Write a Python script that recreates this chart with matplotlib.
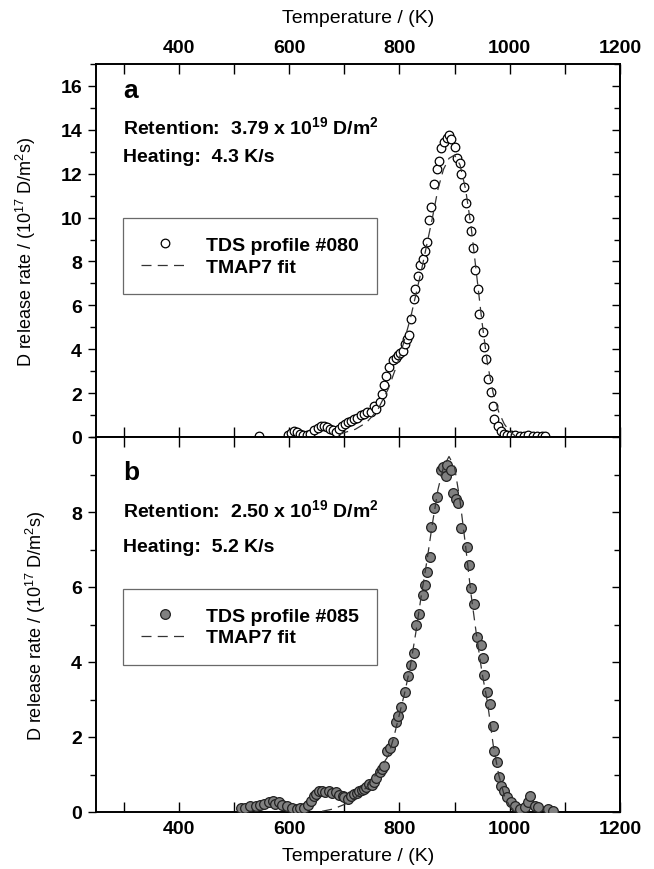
import matplotlib
matplotlib.use("Agg")
import matplotlib.pyplot as plt
from matplotlib.ticker import MultipleLocator

plt.rcParams['font.family'] = ['Liberation Sans', 'DejaVu Sans']
plt.rcParams['mathtext.fontset'] = 'custom'
plt.rcParams['mathtext.rm'] = 'Liberation Sans'
plt.rcParams['mathtext.bf'] = 'Liberation Sans:bold'
plt.rcParams['mathtext.it'] = 'Liberation Sans:italic'

# ---------------- data: panel a (#080) ----------------
temp_a = [545, 598, 604, 609, 614, 620, 626, 632, 638, 645, 652, 658, 663, 668, 674, 680,
          685, 690, 696, 701, 706, 712, 718, 724, 730, 736, 742, 748, 754, 758, 764, 768,
          772, 776, 782, 788, 793, 797, 802, 806, 810, 814, 818, 821, 826, 828, 833, 838,
          842, 846, 850, 854, 858, 862, 868, 872, 875, 881, 886, 890, 894, 900, 905, 910,
          912, 918, 921, 926, 930, 934, 938, 942, 945, 951, 954, 957, 960, 966, 970, 972,
          978, 984, 990, 996, 1002, 1010, 1018, 1026, 1034, 1042, 1050, 1058, 1064]
rate_a = [0.03, 0.08, 0.2, 0.29, 0.22, 0.15, 0.1, 0.1, 0.15, 0.3, 0.4, 0.5, 0.52, 0.45, 0.35, 0.3,
          0.22, 0.35, 0.5, 0.6, 0.67, 0.72, 0.8, 0.85, 0.98, 1.05, 1.14, 1.13, 1.43, 1.28, 1.58, 1.96,
          2.37, 2.8, 3.2, 3.5, 3.6, 3.73, 3.85, 3.94, 4.25, 4.45, 4.63, 5.36, 6.3, 6.76, 7.36, 7.85,
          8.1, 8.5, 8.9, 9.9, 10.5, 11.55, 12.2, 12.6, 13.15, 13.45, 13.65, 13.76, 13.6, 13.2, 12.7, 12.5,
          12.0, 11.4, 10.66, 10.0, 9.4, 8.6, 7.6, 6.76, 5.6, 4.78, 4.1, 3.56, 2.65, 2.04, 1.43, 0.82,
          0.52, 0.29, 0.15, 0.1, 0.08, 0.07, 0.06, 0.05, 0.07, 0.05, 0.06, 0.05, 0.05]
fit_temp_a = [690, 700, 720, 740, 760, 780, 800, 820, 840, 860, 870, 880, 890, 900, 910, 920,
              930, 940, 950, 960, 970, 980, 990, 1000, 1010]
fit_rate_a = [0.1, 0.2, 0.35, 0.65, 1.2, 2.2, 3.6, 5.4, 7.6, 10.0, 11.3, 12.2, 12.7, 12.85, 12.4, 11.3,
              9.6, 7.4, 5.2, 3.3, 2.0, 1.15, 0.6, 0.25, 0.05]

# ---------------- data: panel b (#085) ----------------
temp_b = [512, 520, 530, 540, 548, 555, 563, 570, 575, 581, 588, 597, 605, 615, 620, 627,
          635, 639, 645, 648, 655, 660, 665, 672, 678, 685, 690, 697, 700, 706, 712, 718,
          723, 727, 732, 736, 740, 745, 750, 754, 758, 764, 768, 773, 778, 783, 788, 794,
          797, 803, 810, 815, 821, 827, 830, 836, 842, 846, 851, 856, 858, 863, 869, 875,
          880, 884, 887, 893, 898, 902, 906, 912, 923, 927, 930, 936, 941, 948, 951, 954,
          959, 965, 969, 972, 977, 981, 985, 990, 996, 1003, 1009, 1018, 1027, 1033, 1036, 1045,
          1051, 1069, 1078]
rate_b = [0.12, 0.1, 0.17, 0.15, 0.19, 0.22, 0.26, 0.3, 0.22, 0.26, 0.2, 0.17, 0.12, 0.09, 0.1, 0.12,
          0.2, 0.3, 0.44, 0.48, 0.55, 0.57, 0.53, 0.57, 0.5, 0.53, 0.45, 0.44, 0.39, 0.35, 0.42, 0.48,
          0.52, 0.57, 0.6, 0.61, 0.68, 0.75, 0.72, 0.79, 0.9, 1.06, 1.15, 1.24, 1.63, 1.7, 1.86, 2.4,
          2.55, 2.8, 3.2, 3.63, 3.92, 4.23, 4.99, 5.29, 5.79, 6.05, 6.4, 6.8, 7.6, 8.1, 8.39, 9.13,
          9.2, 8.95, 9.26, 9.13, 8.5, 8.35, 8.24, 7.57, 7.06, 6.6, 5.98, 5.56, 4.66, 4.45, 4.1, 3.65,
          3.2, 2.89, 2.3, 1.64, 1.34, 0.93, 0.7, 0.57, 0.39, 0.26, 0.17, 0.08, 0.13, 0.26, 0.44, 0.17,
          0.13, 0.08, 0.04]
fit_temp_b = [660, 680, 700, 720, 740, 760, 780, 790, 800, 810, 820, 830, 840, 850, 860, 870,
              880, 890, 900, 910, 920, 930, 940, 950, 960, 970, 980, 990, 1000, 1010]
fit_rate_b = [0.02, 0.08, 0.2, 0.38, 0.65, 1.05, 1.5, 2.0, 2.6, 3.2, 3.9, 4.8, 5.8, 6.7, 7.7, 8.6,
              9.2, 9.48, 9.2, 8.3, 7.1, 5.8, 4.7, 3.7, 2.9, 1.8, 1.0, 0.45, 0.15, 0.02]

x_ticks = [400, 600, 800, 1000, 1200]
ylabel = r'D release rate / (10$^{17}$ D/m$^{2}$s)'
xlabel = 'Temperature / (K)'

fig = plt.figure(figsize=(6.54, 8.70), dpi=100)
L, R = 96 / 654, 620 / 654
H = 870
ax1 = fig.add_axes([L, 1 - 438 / H, R - L, (438 - 65) / H])
ax2 = fig.add_axes([L, 1 - 813 / H, R - L, (813 - 438) / H])

TFS = 14

for ax in (ax1, ax2):
    ax.set_xlim(250, 1200)
    ax.xaxis.set_major_locator(MultipleLocator(200))
    ax.xaxis.set_minor_locator(MultipleLocator(100))
    for sp in ax.spines.values():
        sp.set_linewidth(1.4)
    ax.tick_params(axis='x', which='both', direction='in', top=True, bottom=True)
    ax.tick_params(axis='x', which='major', length=7, width=1.0)
    ax.tick_params(axis='x', which='minor', length=7, width=1.0)
    ax.tick_params(axis='y', which='both', direction='out', left=True, right=False)
    ax.tick_params(axis='y', which='major', length=6, width=1.0)
    ax.tick_params(axis='y', which='minor', length=4, width=1.0)
    ax.yaxis.set_minor_locator(MultipleLocator(1))
    ax.yaxis.set_major_locator(MultipleLocator(2))
    sec = ax.secondary_yaxis('right')
    sec.yaxis.set_major_locator(MultipleLocator(2))
    sec.yaxis.set_minor_locator(MultipleLocator(1))
    sec.tick_params(which='both', direction='in', labelright=False)
    sec.tick_params(which='major', length=6, width=1.0)
    sec.tick_params(which='minor', length=4, width=1.0)
    sec.spines['right'].set_linewidth(1.4)

ax1.set_ylim(0, 17)
ax2.set_ylim(0, 10)
ax2.set_yticks([0, 2, 4, 6, 8])
ax2.yaxis.set_minor_locator(MultipleLocator(1))

ax1.set_xticks(x_ticks)
ax2.set_xticks(x_ticks)
ax1.tick_params(axis='x', labelbottom=False, labeltop=True)
ax2.tick_params(axis='x', labelbottom=True, labeltop=False)
for ax in (ax1, ax2):
    for lab in ax.get_xticklabels() + ax.get_yticklabels():
        lab.set_fontweight('bold')
        lab.set_fontsize(TFS)
    ax.tick_params(axis='y', pad=4)
ax1.tick_params(axis='x', pad=6)
ax2.tick_params(axis='x', pad=6)

ax1.xaxis.set_label_position('top')
ax1.set_xlabel(xlabel, fontsize=14, labelpad=12)
ax2.set_xlabel(xlabel, fontsize=14, labelpad=7)
ax1.set_ylabel(ylabel, fontsize=13, labelpad=16)
ax2.set_ylabel(ylabel, fontsize=13, labelpad=17)

# panel a
ax1.plot(temp_a, rate_a, linestyle='none', marker='o', ms=6.2, mfc='white', mec='black',
         mew=0.9, label='TDS profile #080', zorder=3)
ax1.plot(fit_temp_a, fit_rate_a, linestyle=(0, (8, 5)), color='#333333', lw=0.9,
         label='TMAP7 fit', zorder=4)
# panel b
ax2.plot(temp_b, rate_b, linestyle='none', marker='o', ms=7.0, mfc='#808080', mec='#222222',
         mew=0.9, label='TDS profile #085', zorder=3)
ax2.plot(fit_temp_b, fit_rate_b, linestyle=(0, (8, 5)), color='#333333', lw=0.9,
         label='TMAP7 fit', zorder=4)

ann = dict(fontsize=14, fontweight='bold', va='center', ha='left')
ax1.text(0.052, 0.930, 'a', transform=ax1.transAxes, fontsize=19, fontweight='bold', va='center')
ax1.text(0.052, 0.834, r'Retention:  3.79 x 10$^{\mathbf{19}}$ D/m$^{\mathbf{2}}$', transform=ax1.transAxes, **ann)
ax1.text(0.052, 0.753, 'Heating:  4.3 K/s', transform=ax1.transAxes, **ann)
ax2.text(0.052, 0.907, 'b', transform=ax2.transAxes, fontsize=19, fontweight='bold', va='center')
ax2.text(0.052, 0.808, r'Retention:  2.50 x 10$^{\mathbf{19}}$ D/m$^{\mathbf{2}}$', transform=ax2.transAxes, **ann)
ax2.text(0.052, 0.709, 'Heating:  5.2 K/s', transform=ax2.transAxes, **ann)

leg_kw = dict(loc='upper left', frameon=True, fancybox=False, borderpad=0.95,
              handlelength=2.4, handletextpad=0.9, labelspacing=0.2, borderaxespad=0,
              prop={'size': 14, 'weight': 'bold'})
lg1 = ax1.legend(bbox_to_anchor=(0.0515, 0.587), **leg_kw)
lg2 = ax2.legend(bbox_to_anchor=(0.0515, 0.595), **leg_kw)
for lg in (lg1, lg2):
    lg.get_frame().set_edgecolor('#444444')
    lg.get_frame().set_linewidth(0.9)

fig.savefig('out.png', dpi=100)
